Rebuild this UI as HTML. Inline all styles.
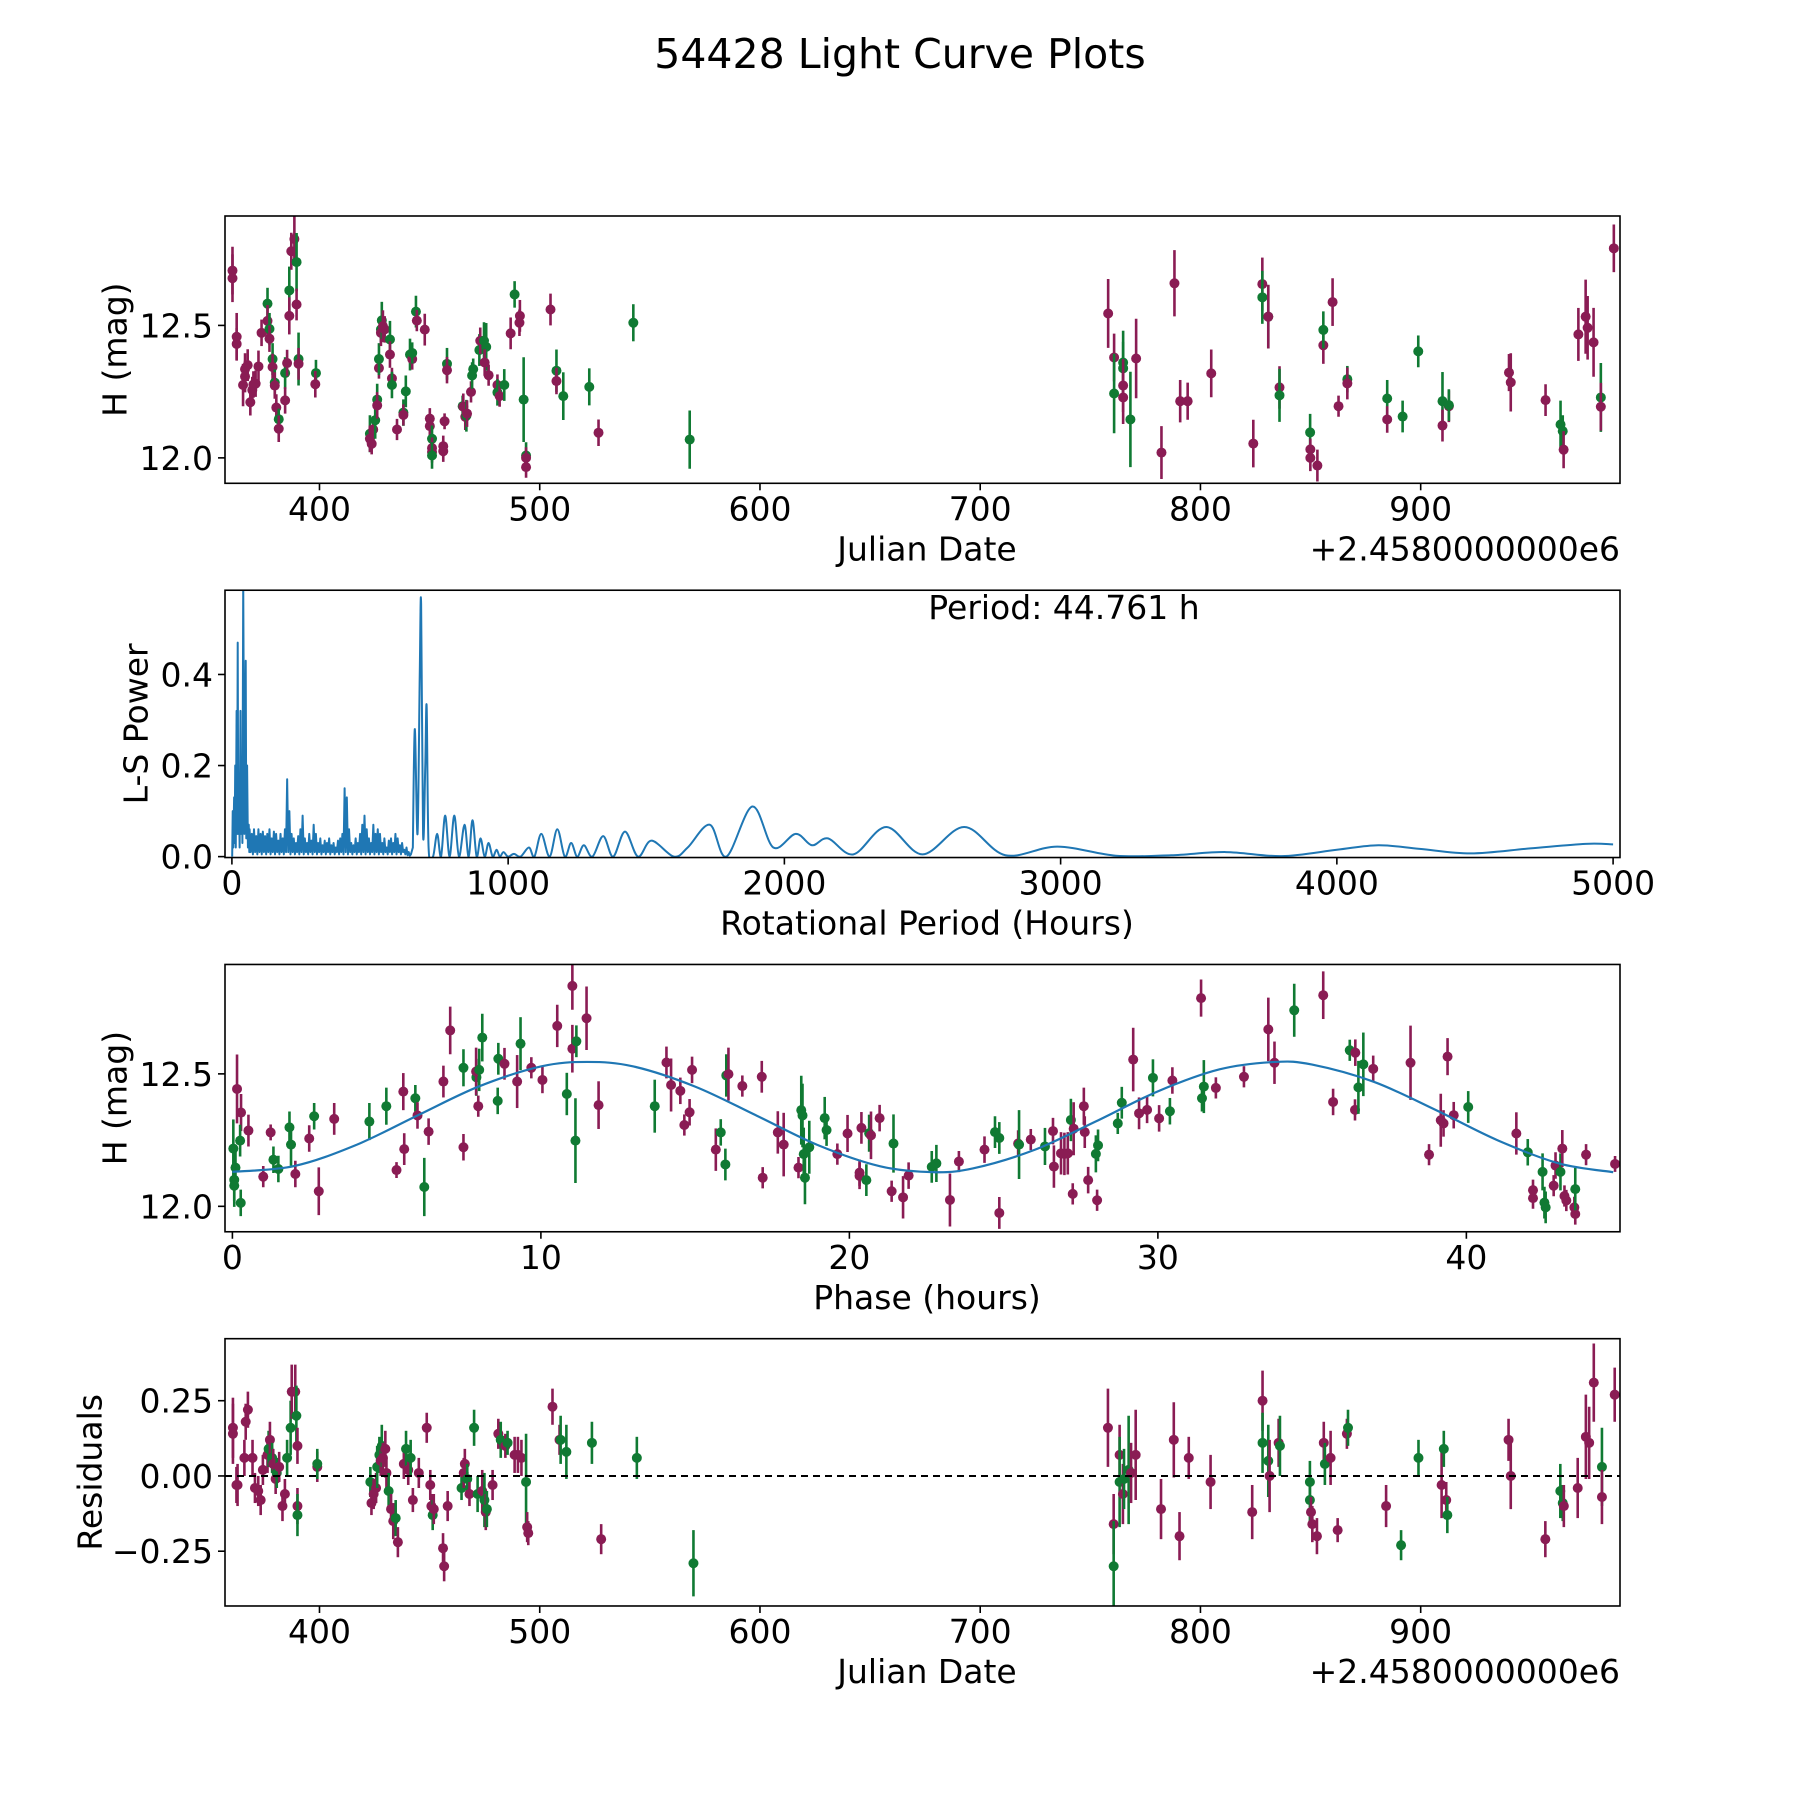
<!DOCTYPE html>
<html><head><meta charset="utf-8">
<style>
html,body{margin:0;padding:0;background:#fff;}
svg{display:block;font-family:"DejaVu Sans","Liberation Sans",sans-serif;}
</style></head>
<body>
<svg id="fig" width="1800" height="1800" viewBox="0 0 1800 1800" xmlns="http://www.w3.org/2000/svg">
<rect width="1800" height="1800" fill="#fff"/>
<text x="900" y="68" font-size="41" text-anchor="middle">54428 Light Curve Plots</text>
</svg>
<script>
// ---------- Panel 1: light curve ----------
const lcDate=[360.5,360.5,362.4,362.4,365.3,366.2,366.2,367.4,368.6,369.5,370,371,372.3,373.7,376.4,376.4,377.3,377.3,378.7,378.7,379.7,379.7,380.4,381.5,381.5,384.4,384.4,385.3,386.3,386.3,387.2,388.6,389.6,389.6,390.5,390.5,398.4,398.1,422.9,422.9,423.7,424.4,425.3,426.2,426.2,427,427,427.9,427.9,428.3,428.8,429.6,432,432,432.9,432.9,435.2,438.1,438.1,439.2,441.1,442.1,442.1,443.8,444.2,447.8,450.1,450.1,451.1,451.1,451.1,451.1,456.8,456.2,456.2,457.9,457.9,465,465.3,466.2,466.7,467,468.8,469.3,469.8,472.6,473,474.7,475.7,475,476.8,480.8,480.8,481.8,483.9,486.8,488.6,490.8,491,492.7,493.8,493.8,493.8,504.9,507.6,507.6,510.7,522.5,526.7,542.5,568.1,
758.1,760.8,760.8,764.9,764.9,764.9,764.9,768.2,770.8,782.3,788.2,790.8,794.2,804.9,824,828.1,828.1,830.8,830.8,835.9,835.9,849.8,849.9,849.9,853.1,855.8,855.8,860,862.7,866.7,866.7,884.8,884.8,891.8,898.9,909.9,909.9,912.8,912.8,940.1,940.9,956.7,963.5,964.5,964.9,971.6,974.9,975.8,978.5,981.8,981.8,987.7];
const lcMag=[12.707,12.678,12.457,12.43,12.275,12.335,12.307,12.35,12.21,12.256,12.277,12.28,12.345,12.472,12.582,12.517,12.487,12.45,12.373,12.343,12.284,12.273,12.19,12.146,12.11,12.32,12.217,12.358,12.632,12.536,12.78,12.826,12.739,12.579,12.373,12.355,12.32,12.278,12.091,12.072,12.053,12.107,12.142,12.22,12.198,12.339,12.373,12.485,12.472,12.519,12.497,12.485,12.447,12.39,12.3,12.275,12.107,12.171,12.162,12.251,12.39,12.373,12.396,12.552,12.518,12.484,12.148,12.12,12.072,12.037,12.022,12.009,12.138,12.044,12.025,12.355,12.331,12.195,12.193,12.155,12.159,12.167,12.249,12.311,12.335,12.407,12.442,12.442,12.419,12.36,12.312,12.275,12.247,12.233,12.275,12.47,12.617,12.51,12.536,12.22,12.009,12.0,11.965,12.56,12.329,12.29,12.233,12.268,12.095,12.51,12.069,
12.545,12.379,12.243,12.36,12.338,12.273,12.228,12.145,12.375,12.02,12.659,12.214,12.214,12.319,12.054,12.656,12.606,12.533,12.533,12.266,12.236,12.096,12.032,12.0,11.971,12.425,12.483,12.588,12.195,12.297,12.281,12.224,12.145,12.156,12.402,12.214,12.122,12.195,12.199,12.322,12.285,12.218,12.126,12.101,12.031,12.466,12.533,12.491,12.436,12.228,12.193,12.791];
const lcErr=[.09,.09,.09,.06,.08,.06,.06,.06,.05,.05,.05,.05,.06,.05,.06,.06,.06,.05,.06,.05,.05,.05,.05,.04,.05,.06,.05,.05,.09,.07,.07,.09,.11,.06,.1,.06,.05,.05,.07,.05,.04,.05,.07,.06,.05,.04,.06,.05,.05,.07,.06,.05,.07,.05,.04,.05,.04,.05,.04,.06,.06,.04,.04,.06,.04,.06,.04,.04,.05,.04,.04,.05,.03,.04,.04,.06,.05,.04,.05,.05,.06,.05,.04,.05,.04,.06,.05,.07,.09,.05,.04,.04,.05,.04,.06,.06,.05,.05,.06,.16,.05,.04,.04,.06,.08,.05,.09,.07,.05,.07,.11,
.13,.09,.15,.12,.1,.1,.1,.18,.15,.1,.125,.08,.07,.09,.09,.1,.1,.12,.12,.08,.1,.07,.04,.05,.06,.07,.07,.09,.04,.05,.06,.07,.05,.06,.06,.11,.06,.06,.06,.07,.11,.06,.09,.06,.07,.1,.14,.12,.13,.13,.09,.09];
const lcBand="PPPPPPPPPPPPPP"+"GPGPGPGPPGPGPPGPPPGPGPGP"+"GPPPGGPPGGPGPPGPPGPGPGGPGGPPPPGPPGPPPGP"+"GPPGPPGGGPGGPPPGPGPGPPGGPPPGPGGPGG"+"PPGGGPPGPPPPPPPPGGPPGGPPPPGPPGPGPGGGPPGPPPGGPPPPPGPP";

// ---------- Panel 2: Lomb-Scargle periodogram ----------
const lsPeriod=[1,3,5,8,10,12,14,17,19,21,23,26,28,31,33,36,38,41,45,48,50,52,55,58,61,63,
64,68,72,76,80,84,88,92,96,100,104,108,112,116,120,124,128,132,136,140,144,148,152,156,160,164,168,172,176,180,184,188,192,196,200,204,208,212,216,220,224,228,232,236,240,244,248,252,256,260,264,268,272,276,280,284,288,292,296,300,304,308,312,316,320,324,328,332,336,340,344,348,352,356,360,364,368,372,376,380,384,388,392,396,400,404,408,412,416,420,424,428,432,436,440,444,448,452,456,460,464,468,472,476,480,484,488,492,496,500,504,508,512,516,520,524,528,532,536,540,544,548,552,556,560,564,568,572,576,580,584,588,592,596,600,604,608,612,616,620,624,628,632,636,640,644,648,
655,662,672,680,685,692,700,705,712,728,743,757,772,788,805,822,842,857,871,886,900,915,929,944,958,970,983,1000,1021,1045,1075,1095,1120,1150,1178,1205,1228,1250,1274,1305,1344,1380,1423,1470,1519,1600,1650,1730,1790,1884,1960,2041,2100,2158,2250,2369,2500,2651,2800,2988,3200,3400,3598,3800,4000,4150,4300,4485,4700,4900,5000];
const lsPower=[0,.1,.02,.13,.03,.2,.02,.32,.05,.47,.05,.12,.02,.32,.05,.2,.03,.6,.05,.25,.43,.04,.2,.02,.07,.01,
.06,.01,.05,.005,.06,.01,.045,.005,.06,.01,.05,.005,.055,.01,.045,.005,.05,.01,.06,.005,.04,.01,.055,.005,.05,.01,.035,.005,.05,.01,.04,.005,.06,.01,.17,.01,.1,.005,.05,.01,.04,.005,.03,.01,.045,.005,.06,.01,.09,.005,.04,.01,.03,.005,.05,.01,.035,.005,.07,.01,.05,.005,.03,.01,.04,.005,.025,.01,.035,.005,.03,.01,.04,.005,.025,.01,.03,.005,.02,.01,.035,.005,.04,.01,.05,.005,.15,.01,.13,.005,.06,.01,.03,.005,.025,.01,.04,.005,.03,.01,.05,.005,.07,.01,.09,.005,.06,.01,.04,.005,.03,.01,.07,.005,.05,.01,.06,.005,.05,.01,.03,.005,.04,.01,.02,.005,.035,.01,.04,.005,.03,.01,.05,.005,.04,.01,.025,.005,.03,.01,.015,.005,.02,.003,.01,.002,.005,
.02,.28,.05,.4,.555,.05,.2,.33,.02,0,.05,0,.09,0,.09,0,.07,0,.08,0,.04,0,.03,0,.015,0,.01,0,.006,0,.02,0,.05,0,.06,0,.03,0,.025,0,.045,0,.055,0,.035,0,.02,.07,0,.11,.02,.05,.025,.04,.005,.065,.005,.065,.003,.022,.002,.003,.01,.001,.015,.025,.017,.007,.018,.028,.027];
const periodLabel="Period: 44.761 h";

// ---------- Panel 3: phase-folded ----------
const phPhase=[0.15,0.28,0.03,0.1,0.06,0.06,0.25,0.27,0.52,1.0,1.24,1.33,1.49,1.85,1.9,2.04,2.49,2.65,2.8,3.3,4.44,4.99,5.32,5.54,5.57,5.93,6.0,6.36,6.22,6.84,7.06,7.49,7.49,7.91,7.9,8.0,7.97,8.1,8.6,8.62,8.82,9.23,9.34,9.69,10.05,10.53,10.84,11.02,11.02,11.15,11.12,11.48,11.87,13.69,14.07,14.22,14.52,14.9,14.82,14.65,15.67,15.83,15.98,16.01,16.08,16.53,17.16,17.19,17.68,17.87,18.35,18.44,18.48,18.52,18.56,18.7,19.2,19.26,19.61,19.94,20.33,20.33,20.39,20.55,20.64,20.7,20.98,21.43,21.37,21.74,21.92,22.67,
22.82,23.26,23.55,24.38,24.72,24.86,24.86,25.47,25.5,25.88,26.34,26.6,26.63,26.86,26.97,27.08,27.24,27.18,27.27,27.6,27.63,27.74,27.99,28.06,28.03,28.7,28.83,29.2,29.39,29.65,29.84,30.04,30.39,30.47,31.43,31.49,31.4,31.88,32.79,33.58,33.78,34.42,35.36,35.68,36.22,36.4,36.39,36.5,36.66,36.98,38.19,38.79,39.17,39.26,39.39,39.59,40.06,41.62,41.99,42.16,42.16,42.47,42.53,42.57,42.83,42.89,43.05,43.11,43.18,43.24,43.5,43.53,43.53,43.88,44.82];
const phMag=[12.443,12.354,12.218,12.146,12.1,12.078,12.248,12.013,12.286,12.112,12.279,12.176,12.141,12.298,12.233,12.122,12.256,12.34,12.057,12.33,12.32,12.378,12.137,12.433,12.216,12.408,12.343,12.282,12.073,12.471,12.664,12.223,12.523,12.487,12.509,12.515,12.378,12.637,12.398,12.557,12.538,12.471,12.614,12.523,12.477,12.681,12.424,12.832,12.595,12.623,12.248,12.71,12.382,12.378,12.543,12.458,12.436,12.515,12.355,12.307,12.214,12.279,12.158,12.494,12.499,12.454,12.489,12.108,12.279,12.233,12.146,12.363,12.343,12.197,12.108,12.223,12.333,12.288,12.197,12.275,12.127,12.115,12.296,12.099,12.276,12.268,12.333,12.237,12.057,12.034,12.116,12.149,
12.162,12.024,12.169,12.214,12.28,12.258,11.975,12.237,12.233,12.252,12.226,12.284,12.15,12.2,12.198,12.2,12.047,12.326,12.293,12.378,12.28,12.099,12.198,12.23,12.023,12.313,12.391,12.554,12.351,12.364,12.485,12.332,12.359,12.475,12.408,12.452,12.786,12.447,12.489,12.668,12.542,12.74,12.797,12.394,12.589,12.58,12.364,12.449,12.536,12.519,12.542,12.195,12.325,12.313,12.565,12.344,12.375,12.275,12.204,12.061,12.031,12.13,12.014,11.996,12.078,12.154,12.13,12.218,12.039,12.022,11.996,11.971,12.065,12.195,12.16];
const phErr=[.13,.07,.11,.08,.08,.08,.06,.05,.06,.04,.03,.05,.05,.06,.08,.05,.05,.05,.09,.06,.07,.07,.03,.07,.06,.05,.05,.05,.11,.06,.09,.05,.07,.07,.09,.08,.04,.09,.05,.06,.06,.1,.1,.04,.05,.08,.08,.09,.09,.06,.16,.12,.09,.1,.06,.1,.05,.05,.05,.04,.08,.05,.06,.08,.1,.04,.06,.04,.08,.12,.04,.13,.12,.1,.1,.1,.08,.06,.04,.07,.05,.05,.06,.06,.07,.09,.05,.11,.04,.08,.05,.06,
.07,.1,.04,.05,.06,.06,.06,.05,.13,.04,.07,.05,.08,.08,.08,.08,.04,.08,.1,.07,.06,.05,.07,.06,.04,.04,.06,.12,.06,.05,.07,.05,.05,.05,.05,.1,.07,.04,.04,.12,.08,.1,.09,.05,.04,.05,.04,.1,.12,.05,.14,.04,.1,.05,.07,.05,.06,.08,.05,.04,.04,.07,.06,.06,.04,.05,.07,.07,.04,.04,.04,.04,.08,.04,.03];
const phBand="PPGGGGGGPPPGGGGPPGPPGGPPPGPPGPPPGGPGPGGGPPGPPPGPPGGPPGPPPPPPPGGGPPPPPPPGGGGGGGPPPPPGGPPGPPPG"+"GPPPGGPPGPGPPPPPPGPPPPGGPGGPPPGPGPGGPPPPPGPPGPPGGPPPPPPPGPGPPGGGPPGPPPPPGPP";
const fitPhase=[0,2,4,6,8,10,11.5,13,15,17,19,21,22.7,24,26,28,30,32,33.8,35,37,39,41,43,44.76];
const fitMag=[12.13,12.152,12.231,12.343,12.453,12.528,12.545,12.528,12.452,12.342,12.23,12.151,12.129,12.143,12.213,12.321,12.434,12.517,12.545,12.535,12.47,12.364,12.25,12.162,12.129];

// ---------- Panel 4: residuals ----------
const resDate=[360.7,360.7,362.8,362.3,365.9,366.5,367.5,369.6,370.7,372.2,373.3,374.3,376.4,376.9,377.5,378.5,379,380.1,380.6,381.7,383.2,384.3,385.3,386.9,387.4,389,389.5,390,390,390,399,399,
423.1,423.6,424.6,425.7,426.2,427.2,427.8,428.3,428.8,429.9,430.4,431.4,432.5,433.5,434.6,435.6,438.3,439.3,440.3,441.4,442.4,445.1,448.7,450.3,450.8,451.4,451.9,456.1,456.6,458.2,464.5,465.5,466,467.1,468.1,470.2,471.8,473.9,474.9,475.5,476,478.6,481.2,482.3,484.4,485.4,488.6,490.1,491.7,493.8,494.3,494.8,505.8,509,509.5,512.1,523.7,527.9,544.1,569.8,
758,760.6,760.6,763.3,763.3,764.8,765.3,767.4,768.5,770.6,782.1,787.9,790.5,794.7,804.6,823.5,828.2,828.2,830.8,831.4,835.5,836.1,849.7,849.7,850.2,850.8,852.9,856,856.5,859.1,862.3,866.5,867,884.3,891.1,899,909.5,910.5,911.6,912.1,939.9,940.9,956.6,963.4,964.5,965,971.3,975,976.5,978.6,982.3,982.3,988.1];
const resVal=[.16,.14,-.03,-.03,.06,.18,.22,.06,-.04,-.05,-.08,.02,.07,.09,.12,.06,.04,-.01,.01,.03,-.1,-.06,.06,.16,.28,.28,.2,.1,-.1,-.13,.03,.04,
-.02,-.09,-.06,-.04,.03,.07,.05,.1,.06,.09,.01,-.05,-.11,-.15,-.14,-.22,.04,.09,.02,.06,-.08,.01,.16,-.03,-.1,-.13,-.11,-.24,-.3,-.1,-.04,.01,.04,-.01,-.06,.16,-.06,-.05,-.08,-.12,-.11,-.03,.14,.12,.1,.11,.07,.07,.06,-.02,-.17,-.19,.23,.12,.12,.08,.11,-.21,.06,-.29,
.16,-.16,-.3,.07,-.02,-.06,-.01,.02,.01,.07,-.11,.12,-.2,.06,-.02,-.12,.25,.11,.05,0,.11,.1,-.02,-.08,-.12,-.16,-.2,.11,.04,.06,-.18,.14,.16,-.1,-.23,.06,-.03,.09,-.08,-.13,.12,0,-.21,-.05,-.09,-.1,-.04,.13,.11,.31,.03,-.07,.27];
const resErr=[.1,.1,.07,.06,.06,.06,.06,.06,.05,.05,.05,.05,.06,.06,.06,.05,.05,.05,.05,.05,.05,.05,.06,.09,.09,.09,.1,.06,.06,.07,.05,.05,
.05,.04,.05,.05,.07,.06,.05,.07,.05,.06,.05,.06,.05,.06,.06,.05,.05,.06,.05,.06,.04,.05,.05,.05,.04,.05,.05,.05,.05,.05,.04,.05,.05,.05,.04,.06,.06,.07,.09,.06,.06,.05,.05,.06,.04,.04,.06,.06,.06,.16,.05,.04,.06,.05,.08,.09,.07,.05,.07,.11,
.13,.1,.15,.1,.15,.1,.1,.18,.1,.15,.1,.125,.08,.07,.09,.09,.1,.1,.12,.12,.08,.1,.07,.07,.05,.06,.06,.07,.07,.09,.04,.05,.06,.07,.05,.06,.11,.06,.06,.06,.07,.11,.06,.09,.06,.07,.1,.14,.12,.13,.13,.09,.09];
const resBand="PPPPPPPPPPPPPGPGPPGPPPGGPPGPPGPG"+"GPPPGGPGPPPGPPGPPGPGPPPPPGPPPPGPPGPGGPGPGPPGPGPPPGPPPPGGGPGG"+"PPGPGPGGPPPPPPPPPGGPPGGGPPPPGPPPGPGGPGPGPPPGGPPPPPGPP";

// ---------- drawing ----------
const NS="http://www.w3.org/2000/svg";
const svg=document.getElementById('fig');
const COL={P:'#8a1c54',G:'#107a33'};
const L=225,R=1620,H=267.3,GAP=374.23;
function mk(tag,attrs,parent){const e=document.createElementNS(NS,tag);for(const k in attrs)e.setAttribute(k,attrs[k]);(parent||svg).appendChild(e);return e;}
function axis(i,xlim,ylim){const top=216+i*GAP,bot=top+H;
  return {top,bot,x:v=>L+(v-xlim[0])/(xlim[1]-xlim[0])*(R-L),y:v=>bot-(v-ylim[0])/(ylim[1]-ylim[0])*H};}
function frame(ax,name,xt,xtl,yt,ytl,xlabel,ylabel,ylx,offset){
  const g=mk('g',{});
  
  
  const cid='clip'+name;const cp=mk('clipPath',{id:cid},g);mk('rect',{x:L,y:ax.top,width:R-L,height:H},cp);
  const plot=mk('g',{'clip-path':'url(#'+cid+')'},g);
  
  
  const box=mk('rect',{x:L,y:ax.top,width:R-L,height:H,fill:'none',stroke:'#000','stroke-width':1.6},g);
  
  
  xt.forEach((v,k)=>{const X=ax.x(v);mk('line',{x1:X,x2:X,y1:ax.bot,y2:ax.bot+7,stroke:'#000','stroke-width':1.6},g);
    const t=mk('text',{x:X,y:ax.bot+37,'font-size':33,'text-anchor':'middle'},g);t.textContent=xtl[k];
    
    });
  yt.forEach((v,k)=>{const Y=ax.y(v);mk('line',{x1:L-7,x2:L,y1:Y,y2:Y,stroke:'#000','stroke-width':1.6},g);
    const t=mk('text',{x:L-12,y:Y+12,'font-size':33,'text-anchor':'end'},g);t.textContent=ytl[k];
    
    });
  const xl=mk('text',{x:927,y:ax.bot+77,'font-size':33,'text-anchor':'middle'},g);xl.textContent=xlabel;
  
  
  const yl=mk('text',{x:ylx,y:(ax.top+ax.bot)/2,'font-size':33,'text-anchor':'middle','dominant-baseline':'central',transform:'rotate(-90 '+ylx+' '+(ax.top+ax.bot)/2+')'},g);yl.textContent=ylabel;
  
  
  if(offset){const o=mk('text',{x:R,y:ax.bot+77,'font-size':33,'text-anchor':'end'},g);o.textContent=offset;
    
    }
  return plot;}
function errPoints(plot,ax,xs,ys,es,bands,nm){
  xs.forEach((v,i)=>{const c=COL[bands[i]]||COL.P;const X=ax.x(v);
    const ln=mk('line',{x1:X,x2:X,y1:ax.y(ys[i]+es[i]),y2:ax.y(ys[i]-es[i]),stroke:c,'stroke-width':2.6},plot);
    
    
    const p=mk('circle',{cx:X,cy:ax.y(ys[i]),r:5,fill:c},plot);
    
    });}
function smoothPath(pts){let d='M'+pts[0][0]+','+pts[0][1];
  for(let i=0;i<pts.length-1;i++){const p0=pts[Math.max(0,i-1)],p1=pts[i],p2=pts[i+1],p3=pts[Math.min(pts.length-1,i+2)];
    const c1=[p1[0]+(p2[0]-p0[0])/6,p1[1]+(p2[1]-p0[1])/6],c2=[p2[0]-(p3[0]-p1[0])/6,p2[1]-(p3[1]-p1[1])/6];
    d+=' C'+c1[0]+','+c1[1]+' '+c2[0]+','+c2[1]+' '+p2[0]+','+p2[1];}
  return d;}

// Panel 1
const ax1=axis(0,[357.1,990.5],[11.904,12.913]);
const pl1=frame(ax1,'light-curve-panel',[400,500,600,700,800,900],['400','500','600','700','800','900'],[12.0,12.5],['12.0','12.5'],'Julian Date','H (mag)',115,'+2.4580000000e6');
errPoints(pl1,ax1,lcDate,lcMag,lcErr,lcBand,'light-curve');

// Panel 2
const ax2=axis(1,[-25,5025],[-0.002,0.585]);
const pl2=frame(ax2,'periodogram-panel',[0,1000,2000,3000,4000,5000],['0','1000','2000','3000','4000','5000'],[0,0.2,0.4],['0.0','0.2','0.4'],'Rotational Period (Hours)','L-S Power',136,null);
const nSpiky=lsPeriod.indexOf(655);
let dS='';for(let i=0;i<=nSpiky;i++){dS+=(i?'L':'M')+ax2.x(lsPeriod[i]).toFixed(2)+','+ax2.y(lsPower[i]).toFixed(2);}
const smoothPts=[];for(let i=nSpiky;i<lsPeriod.length;i++)smoothPts.push([ax2.x(lsPeriod[i]),ax2.y(lsPower[i])]);
const lsLine=mk('path',{d:dS+' '+smoothPath(smoothPts).replace(/^M/,'L'),fill:'none',stroke:'#1f77b4','stroke-width':2,'stroke-linejoin':'round'},pl2);


const pt=mk('text',{x:1064,y:619,'font-size':33,'text-anchor':'middle'});pt.textContent=periodLabel;



// Panel 3
const ax3=axis(2,[-0.24,44.98],[11.904,12.913]);
const pl3=frame(ax3,'phase-panel',[0,10,20,30,40],['0','10','20','30','40'],[12.0,12.5],['12.0','12.5'],'Phase (hours)','H (mag)',115,null);
errPoints(pl3,ax3,phPhase,phMag,phErr,phBand,'phase');
const fitLine=mk('path',{d:smoothPath(fitPhase.map((p,i)=>[ax3.x(p),ax3.y(fitMag[i])])),fill:'none',stroke:'#1f77b4','stroke-width':2.2},pl3);



// Panel 4
const ax4=axis(3,[357.1,990.5],[-0.432,0.456]);
const pl4=frame(ax4,'residuals-panel',[400,500,600,700,800,900],['400','500','600','700','800','900'],[-0.25,0,0.25],['\u22120.25','0.00','0.25'],'Julian Date','Residuals',90,'+2.4580000000e6');
errPoints(pl4,ax4,resDate,resVal,resErr,resBand,'residual');
const zl=mk('line',{x1:L,x2:R,y1:ax4.y(0),y2:ax4.y(0),stroke:'#000','stroke-width':2,'stroke-dasharray':'7,5'},pl4);


</script>
</body></html>
